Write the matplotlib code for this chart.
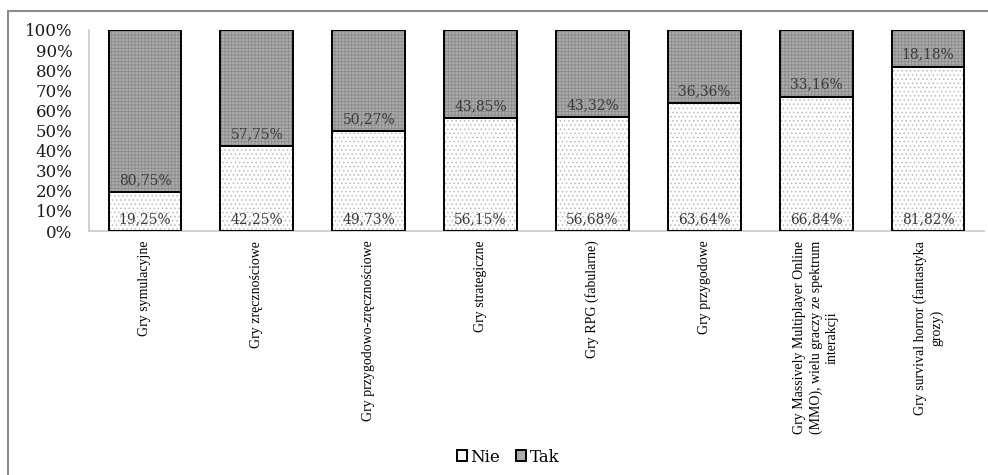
import matplotlib
matplotlib.use("Agg")
import matplotlib.pyplot as plt
from matplotlib.patches import Rectangle, Patch
from matplotlib.font_manager import FontProperties
from matplotlib.ticker import PercentFormatter, MultipleLocator

categories = [
    "Gry symulacyjne",
    "Gry zręcznościowe",
    "Gry przygodowo-zręcznościowe",
    "Gry strategiczne",
    "Gry RPG (fabularne)",
    "Gry przygodowe",
    "Gry Massively Multiplayer Online\n(MMO), wielu graczy ze spektrum\ninterakcji",
    "Gry survival horror (fantastyka\ngrozy)",
]
nie = [19.25, 42.25, 49.73, 56.15, 56.68, 63.64, 66.84, 81.82]
tak = [80.75, 57.75, 50.27, 43.85, 43.32, 36.36, 33.16, 18.18]

W, H = 988, 475
fig = plt.figure(figsize=(W / 100, H / 100), dpi=100)
plt.rcParams["hatch.linewidth"] = 0.6

ax = fig.add_axes([89 / W, 1 - 231 / H, (984 - 89) / W, (231 - 30) / H])

x = list(range(len(categories)))
width = 0.65

# filled, hatched segments
ax.bar(x, nie, width, color="white", edgecolor="#bcbcbc", hatch="....", linewidth=0, zorder=2)
ax.bar(x, tak, width, bottom=nie, color="#acacac", edgecolor="#8a8a8a", hatch="+++++", linewidth=0, zorder=2)
# black outlines
ax.bar(x, nie, width, fill=False, edgecolor="black", linewidth=1.4, zorder=3)
ax.bar(x, tak, width, bottom=nie, fill=False, edgecolor="black", linewidth=1.4, zorder=3)

label_font = dict(family="DejaVu Serif", size=10, color="#3a3a3a", ha="center", va="center", zorder=4)
for xi, n, t in zip(x, nie, tak):
    ax.text(xi, 6, f"{n:.2f}%".replace(".", ","), **label_font)
    ax.text(xi, n + 6, f"{t:.2f}%".replace(".", ","), **label_font)

ax.set_xlim(-0.5, len(categories) - 0.5)
ax.set_ylim(0, 100)
ax.yaxis.set_major_locator(MultipleLocator(10))
ax.yaxis.set_major_formatter(PercentFormatter(decimals=0))
ax.tick_params(axis="y", length=0, pad=12, labelsize=12, labelcolor="#1a1a1a")
for lab in ax.get_yticklabels():
    lab.set_fontfamily("DejaVu Serif")

ax.set_xticks(x)
ax.set_xticklabels(categories, rotation=90, family="Liberation Serif", fontsize=10,
                   multialignment="center", linespacing=1.3)
ax.tick_params(axis="x", length=0, pad=7)

for side in ("top", "right"):
    ax.spines[side].set_visible(False)
for side in ("left", "bottom"):
    ax.spines[side].set_color("#c8c8c8")
    ax.spines[side].set_linewidth(1.2)

handles = [
    Patch(facecolor="white", edgecolor="black", linewidth=1.4),
    Patch(facecolor="#acacac", edgecolor="black", linewidth=1.4),
]
fig.legend(handles, ["Nie", "Tak"], loc="center", bbox_to_anchor=(508 / W, 1 - 457 / H),
           ncol=2, frameon=False, handlelength=0.6, handleheight=0.6, handletextpad=0.2,
           columnspacing=1.0, prop=FontProperties(family="DejaVu Serif", size=12))

# chart frame
fig.add_artist(Rectangle((8 / W, -0.1), 1.2, 1.1 - 11 / H, transform=fig.transFigure,
                         fill=False, edgecolor="#8c8c8c", linewidth=1.5))

fig.savefig("out.png", dpi=100)
